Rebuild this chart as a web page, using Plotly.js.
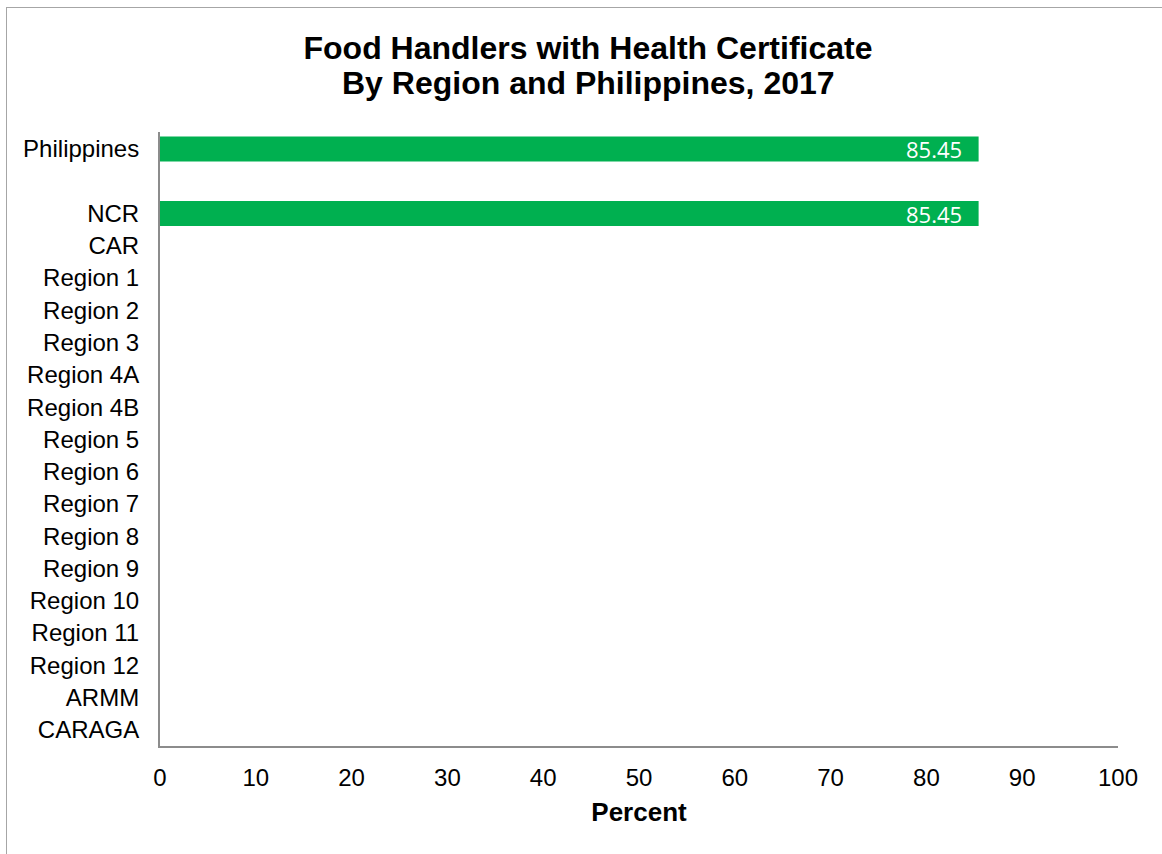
<!DOCTYPE html>
<html>
<head>
<meta charset="utf-8">
<script src="https://cdn.plot.ly/plotly-3.0.1.min.js"></script>
<style>
html,body{margin:0;padding:0;background:#fff;}
#frame{position:absolute;left:6px;top:7px;width:1200px;height:900px;border:1.5px solid #a6a6a6;box-sizing:border-box;pointer-events:none;}
#chart{position:absolute;left:0;top:0;width:1162px;height:854px;}
</style>
</head>
<body>
<div id="frame"></div>
<div id="chart"></div>
<script>
var categories = ["Philippines", " ", "NCR", "CAR", "Region 1", "Region 2", "Region 3", "Region 4A", "Region 4B", "Region 5", "Region 6", "Region 7", "Region 8", "Region 9", "Region 10", "Region 11", "Region 12", "ARMM", "CARAGA"];
var values = [85.45, null, 85.45, null, null, null, null, null, null, null, null, null, null, null, null, null, null, null, null];
var xTicks = [0, 10, 20, 30, 40, 50, 60, 70, 80, 90, 100];
var titleLine1 = "Food Handlers with Health Certificate";
var titleLine2 = "By Region and Philippines, 2017";

var trace = {
  type: "bar",
  orientation: "h",
  y: categories,
  x: values,
  marker: {color: "#00B050"},
  hoverinfo: "none"
};

var annotations = [];
categories.forEach(function(c, i){
  if (values[i] !== null) {
    annotations.push({
      x: values[i], y: c, xref: "x", yref: "y",
      text: values[i].toFixed(2), showarrow: false,
      xanchor: "right", xshift: -15, yshift: 0,
      font: {family: "Open Sans, Noto Sans, sans-serif", size: 22, color: "#ffffff"}
    });
  }
});
annotations.push({
  xref: "paper", yref: "paper", x: (588-160)/958, y: (746-83)/614,
  xanchor: "center", yanchor: "middle", showarrow: false,
  text: "<b>" + titleLine2 + "</b>",
  font: {family: "Liberation Sans, Arial, sans-serif", size: 32, color: "#000"}
});

var layout = {
  width: 1162, height: 854,
  margin: {l: 160, r: 44, t: 132, b: 108},
  paper_bgcolor: "rgba(0,0,0,0)",
  plot_bgcolor: "rgba(0,0,0,0)",
  showlegend: false,
  bargap: 0.23,
  font: {family: "Liberation Sans, Arial, sans-serif", color: "#000"},
  title: {
    text: "<b>" + titleLine1 + "</b>",
    xref: "container", x: 588/1162, xanchor: "center",
    yref: "container", y: 1 - 48/854, yanchor: "middle",
    font: {family: "Liberation Sans, Arial, sans-serif", size: 32, color: "#000"}
  },
  xaxis: {
    range: [0, 100],
    tickmode: "array", tickvals: xTicks, ticktext: xTicks.map(String),
    showgrid: false, zeroline: false,
    showline: true, linecolor: "#8c8c8c", linewidth: 2,
    ticks: "", ticklabelstandoff: 9,
    tickfont: {size: 24, color: "#000"},
    title: {text: "<b>Percent</b>", font: {size: 26, color: "#000"}, standoff: 13},
    fixedrange: true
  },
  yaxis: {
    type: "category",
    categoryorder: "array", categoryarray: categories,
    autorange: "reversed",
    showgrid: false, zeroline: false,
    showline: true, linecolor: "#8c8c8c", linewidth: 2,
    ticks: "", ticklabelstandoff: 14,
    tickfont: {size: 24, color: "#000"},
    fixedrange: true
  },
  annotations: annotations
};

Plotly.newPlot("chart", [trace], layout, {displayModeBar: false, staticPlot: true});
</script>
</body>
</html>
